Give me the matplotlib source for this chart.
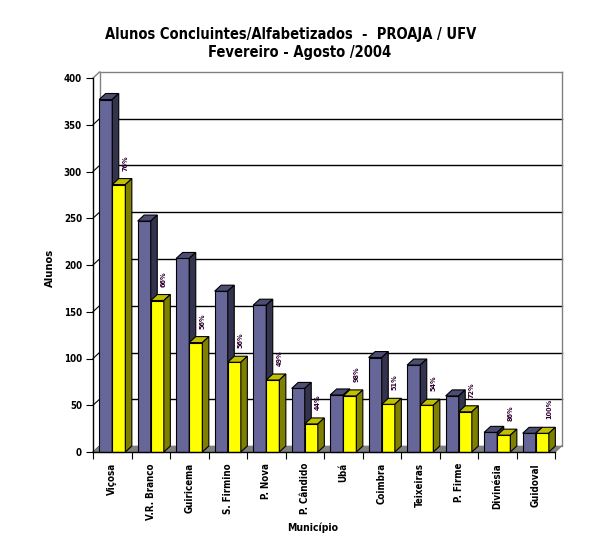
import matplotlib
matplotlib.use("Agg")
import matplotlib.pyplot as plt
from matplotlib.patches import Polygon

categories = ["Viçosa", "V.R. Branco", "Guiricema", "S. Firmino", "P. Nova",
              "P. Cândido", "Ubá", "Coimbra", "Teixeiras", "P. Firme",
              "Divinésia", "Guidoval"]
concluintes = [377, 247, 207, 172, 157, 68, 61, 101, 93, 60, 21, 20]
alfabetizados = [286, 162, 117, 96, 77, 30, 60, 51, 50, 43, 18, 20]
percent_labels = ["76%", "66%", "56%", "56%", "49%", "44%", "98%", "51%",
                  "54%", "72%", "86%", "100%"]
yticks = [0, 50, 100, 150, 200, 250, 300, 350, 400]

W, H = 602, 554
fig = plt.figure(figsize=(W / 100, H / 100), dpi=100)
fig.patch.set_facecolor("white")

ax_l, ax_b, ax_w, ax_h = 93, 102, 462, 374
ax = fig.add_axes([ax_l / W, ax_b / H, ax_w / W, ax_h / H])
n = len(categories)
ymax = 400
ax.set_xlim(0, n)
ax.set_ylim(0, ymax)

# depth offsets (pixels -> data units)
dpx, dpy = 6.5, 6.0
dx = dpx * n / ax_w
dy = dpy * ymax / ax_h

FONT = dict(family="DejaVu Sans", fontweight="bold", stretch="condensed")

# back wall gridlines
for v in yticks[1:-1]:
    ax.plot([dx, n + dx], [v + dy, v + dy], color="black", lw=1.0, clip_on=False, zorder=1)
# wall borders
ax.plot([dx, n + dx], [ymax + dy, ymax + dy], color="#808080", lw=1.0, clip_on=False, zorder=1)
ax.plot([n + dx, n + dx], [dy, ymax + dy], color="#808080", lw=1.0, clip_on=False, zorder=1)
ax.plot([dx, dx], [dy, ymax + dy], color="#808080", lw=1.0, clip_on=False, zorder=1)
ax.plot([0, dx], [ymax, ymax + dy], color="#808080", lw=1.0, clip_on=False, zorder=1)
# diagonal tick marks on the side wall
for v in yticks[:-1]:
    ax.plot([0, dx], [v, v + dy], color="black", lw=0.8, clip_on=False, zorder=1)

# floor
floor = Polygon([(0, 0), (n, 0), (n + dx, dy), (dx, dy)], closed=True,
                facecolor="#808080", edgecolor="#808080", lw=0.5, clip_on=False, zorder=1.5)
ax.add_patch(floor)
ax.plot([n, n + dx], [0, dy], color="#808080", lw=1.0, clip_on=False, zorder=1.5)


def bar3d(x0, w, h, front, top, side):
    ax.bar([x0], [h], width=w, align="edge", color=front, edgecolor="black",
           linewidth=0.8, zorder=3, clip_on=False)
    tp = Polygon([(x0, h), (x0 + w, h), (x0 + w + dx, h + dy), (x0 + dx, h + dy)],
                 closed=True, facecolor=top, edgecolor="black", lw=0.8, zorder=3, clip_on=False)
    sp = Polygon([(x0 + w, 0), (x0 + w + dx, dy), (x0 + w + dx, h + dy), (x0 + w, h)],
                 closed=True, facecolor=side, edgecolor="black", lw=0.8, zorder=3, clip_on=False)
    ax.add_patch(tp)
    ax.add_patch(sp)


bw = 0.34
start = 0.16
for i in range(n):
    bar3d(i + start, bw, concluintes[i], "#666699", "#4d4d73", "#33334d")
    bar3d(i + start + bw, bw, alfabetizados[i], "#ffff00", "#c0c000", "#808000")
    gap = 14 * ymax / ax_h
    ax.text(i + start + 1.5 * bw + dx, alfabetizados[i] + gap, percent_labels[i],
            rotation=90, ha="center", va="bottom", fontsize=5.2, color="#300030",
            zorder=4, **FONT)

# axes styling
for s in ["top", "right"]:
    ax.spines[s].set_visible(False)
ax.spines["left"].set_linewidth(1.0)
ax.spines["bottom"].set_linewidth(1.0)
ax.spines["left"].set_zorder(5)
ax.spines["bottom"].set_zorder(5)
ax.set_facecolor("none")

ax.set_yticks(yticks)
ax.set_yticklabels([str(v) for v in yticks], fontsize=7, **FONT)
ax.tick_params(axis="y", direction="out", length=5, width=0.8, pad=3)

ax.set_xticks(range(n + 1))
ax.set_xticklabels([""] * (n + 1))
ax.tick_params(axis="x", which="major", direction="out", length=5, width=0.8)
ax.set_xticks([i + 0.5 for i in range(n)], minor=True)
ax.set_xticklabels(categories, minor=True, rotation=90, va="top", ha="center",
                   fontsize=7, **FONT)
ax.tick_params(axis="x", which="minor", length=0, pad=8)

fig.text(50 / W, 1 - 268 / H, "Alunos", rotation=90, ha="center", va="center",
         fontsize=8, **FONT)
fig.text(313 / W, 1 - 528 / H, "Município", ha="center", va="center",
         fontsize=7.5, **FONT)
fig.text(291 / W, 1 - 34 / H, "Alunos Concluintes/Alfabetizados  -  PROAJA / UFV",
         ha="center", va="center", fontsize=10.5, **FONT)
fig.text(300 / W, 1 - 53 / H, "Fevereiro - Agosto /2004",
         ha="center", va="center", fontsize=10.5, **FONT)

fig.savefig("out.png", dpi=100, facecolor="white")
